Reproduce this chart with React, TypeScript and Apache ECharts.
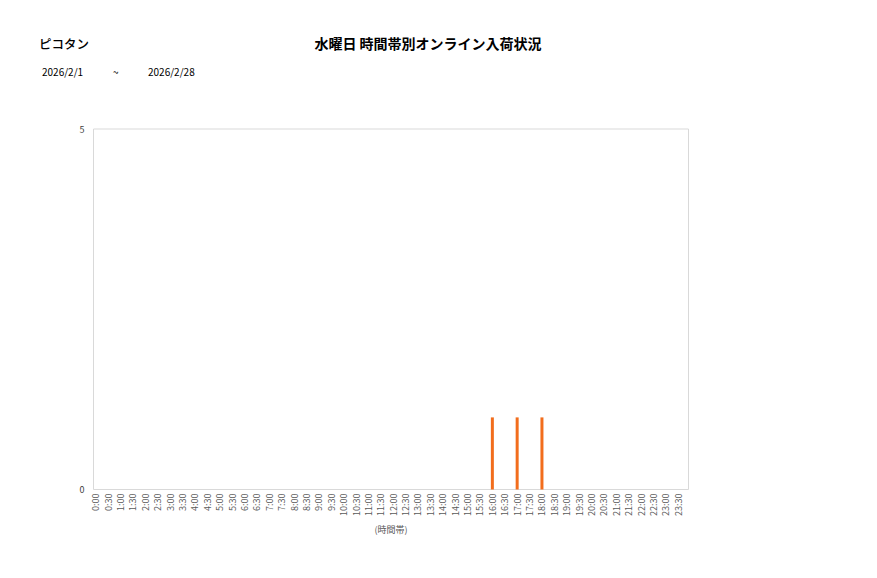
import React, { useEffect, useRef } from "react";
import * as echarts from "echarts";

const categories = [
  "0:00", "0:30", "1:00", "1:30", "2:00", "2:30", "3:00", "3:30",
  "4:00", "4:30", "5:00", "5:30", "6:00", "6:30", "7:00", "7:30",
  "8:00", "8:30", "9:00", "9:30", "10:00", "10:30", "11:00", "11:30",
  "12:00", "12:30", "13:00", "13:30", "14:00", "14:30", "15:00", "15:30",
  "16:00", "16:30", "17:00", "17:30", "18:00", "18:30", "19:00", "19:30",
  "20:00", "20:30", "21:00", "21:30", "22:00", "22:30", "23:00", "23:30",
];

const values = [
  0, 0, 0, 0, 0, 0, 0, 0,
  0, 0, 0, 0, 0, 0, 0, 0,
  0, 0, 0, 0, 0, 0, 0, 0,
  0, 0, 0, 0, 0, 0, 0, 0,
  1, 0, 1, 0, 1, 0, 0, 0,
  0, 0, 0, 0, 0, 0, 0, 0,
];

const yTicks = [0, 5];

const storeName = "ピコタン";
const titleText = "水曜日 時間帯別オンライン入荷状況";
const dateFrom = "2026/2/1";
const dateSep = "~";
const dateTo = "2026/2/28";
const axisName = "(時間帯)";

const FONT = "'Noto Sans CJK JP', 'Noto Sans', sans-serif";

export default function App() {
  const ref = useRef<HTMLDivElement>(null);
  useEffect(() => {
    document.body.style.margin = "0";
    const chart = echarts.init(ref.current!, null, { renderer: "svg" });
    chart.setOption({
      animation: false,
      backgroundColor: "#ffffff",
      textStyle: { fontFamily: FONT },
      grid: { left: 89.5, top: 129, width: 595, height: 360.5, containLabel: false },
      xAxis: {
        type: "category",
        data: categories,
        boundaryGap: true,
        axisLine: { show: false },
        axisTick: { show: false },
        axisLabel: {
          interval: 0,
          rotate: 90,
          fontSize: 9,
          color: "#595959",
          margin: 4,
          fontFamily: FONT,
        },
        splitLine: { show: false },
      },
      yAxis: {
        type: "value",
        min: yTicks[0],
        max: yTicks[yTicks.length - 1],
        interval: 5,
        axisLine: { show: false },
        axisTick: { show: false },
        splitLine: { show: false },
        axisLabel: { fontSize: 9, color: "#404040", margin: 5, fontFamily: FONT },
      },
      series: [
        {
          type: "bar",
          data: values,
          barWidth: 3,
          itemStyle: { color: "#F26D1C" },
        },
      ],
      graphic: [
        {
          type: "rect",
          shape: { x: 93.5, y: 129, width: 595, height: 360.5 },
          style: { fill: "none", stroke: "#d9d9d9", lineWidth: 1 },
          z: -1,
        },
        {
          type: "text",
          x: 39,
          y: 43,
          style: {
            text: storeName,
            font: `500 12.5px ${FONT}`,
            fill: "#000",
            textVerticalAlign: "middle",
          },
        },
        {
          type: "text",
          x: 428,
          y: 43,
          style: {
            text: titleText,
            font: `bold 14px ${FONT}`,
            fill: "#000",
            textAlign: "center",
            textVerticalAlign: "middle",
          },
        },
        {
          type: "text",
          x: 42,
          y: 71,
          style: { text: dateFrom, font: `10px ${FONT}`, fill: "#000", textVerticalAlign: "middle" },
        },
        {
          type: "text",
          x: 113,
          y: 71,
          style: { text: dateSep, font: `10px ${FONT}`, fill: "#000", textVerticalAlign: "middle" },
        },
        {
          type: "text",
          x: 148,
          y: 71,
          style: { text: dateTo, font: `10px ${FONT}`, fill: "#000", textVerticalAlign: "middle" },
        },
        {
          type: "text",
          x: 391,
          y: 529,
          style: {
            text: axisName,
            font: `9px ${FONT}`,
            fill: "#595959",
            textAlign: "center",
            textVerticalAlign: "middle",
          },
        },
      ],
    });
    return () => chart.dispose();
  }, []);
  return <div ref={ref} style={{ width: 877, height: 578 }} />;
}
